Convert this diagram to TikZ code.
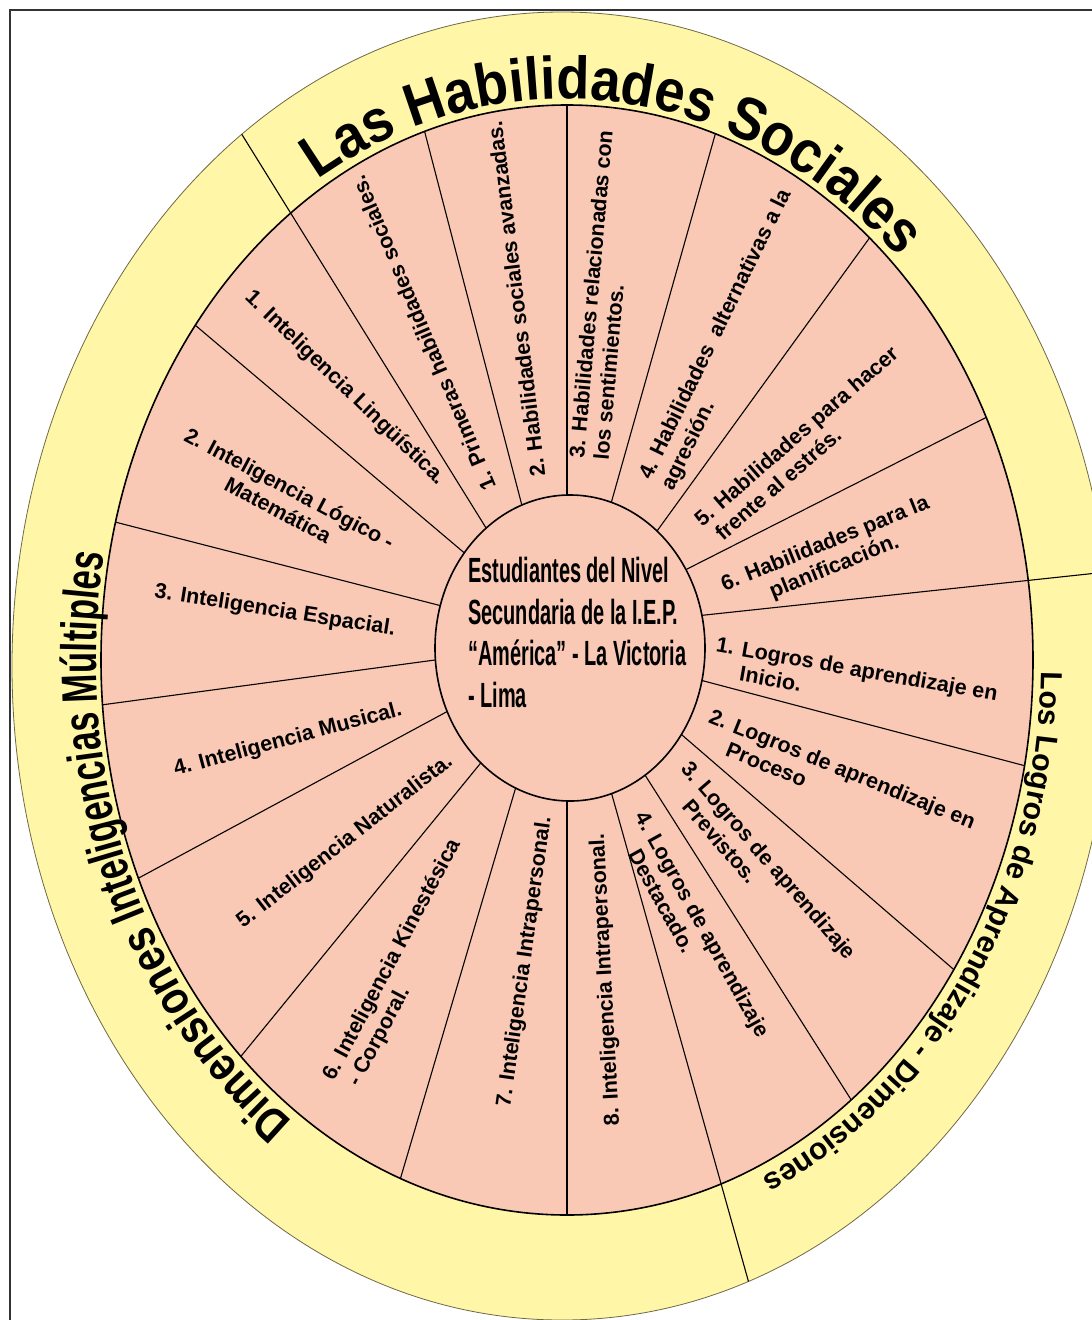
\documentclass[tikz,border=0pt]{standalone}
\usepackage{fontspec}
\setmainfont{Liberation Sans}
\newfontfamily\centerfont[FakeStretch=0.57]{Liberation Sans}
\newfontfamily\condfont[FakeStretch=0.69]{Liberation Sans}
\newfontfamily\semifont[FakeStretch=0.82]{Liberation Sans}
\newfontfamily\habfont[FakeStretch=0.9]{Liberation Sans}
\usetikzlibrary{decorations.text,calc}
\definecolor{bandyellow}{RGB}{255,246,168}
\definecolor{wedgepink}{RGB}{249,201,181}
\definecolor{rimline}{RGB}{110,105,70}
\newcommand\ttlHab{\habfont\bfseries\fontsize{60}{64}\selectfont}
\newcommand\ttlDimA{\semifont\bfseries\fontsize{48}{52}\selectfont}
\newcommand\ttlDimB{\condfont\bfseries\fontsize{50}{54}\selectfont}
\newcommand\ttlLog{\bfseries\fontsize{30.3}{34}\selectfont}
\begin{document}
\begin{tikzpicture}[x=1pt,y=1pt,
  lbl/.style={font=\bfseries\fontsize{21.5}{24.5}\selectfont, inner sep=0pt},
  divider/.style={line width=1.1pt, draw=black},
  rim/.style={line width=1.6pt, draw=black}]
\useasboundingbox (0,0) rectangle (1092,-1320);
\fill[white] (0,0) rectangle (1092,-1320);
\begin{scope}
\clip (0,0) rectangle (1092,-1320);
\draw[line width=1.2pt, black!80] (10,-1325) -- (10,-10) -- (1100,-10);
\filldraw[fill=bandyellow, draw=rimline, line width=0.8pt] (562,-666) ellipse [x radius=550, y radius=654];
\fill[wedgepink] (567,-660) ellipse [x radius=466, y radius=555];
% divider end points
\coordinate (iA) at (478,-515); \coordinate (oA) at (290,-212);
\coordinate (iB) at (520,-498); \coordinate (oB) at (425,-133);
\coordinate (iC) at (567,-495); \coordinate (oC) at (567,-105);
\coordinate (iD) at (612,-500); \coordinate (oD) at (715,-135);
\coordinate (iE) at (665,-520); \coordinate (oE) at (868,-240);
\coordinate (iF) at (695,-565); \coordinate (oF) at (985,-418);
\coordinate (iG) at (705,-615); \coordinate (oG) at (1032,-580);
\coordinate (iH) at (700,-680); \coordinate (oH) at (1022,-765);
\coordinate (iI) at (682,-735); \coordinate (oI) at (952,-968);
\coordinate (iJ) at (645,-775); \coordinate (oJ) at (850,-1098);
\coordinate (iK) at (612,-795); \coordinate (oK) at (720,-1180);
\coordinate (iL) at (567,-800); \coordinate (oL) at (567,-1215);
\coordinate (iM) at (515,-790); \coordinate (oM) at (400,-1180);
\coordinate (iN) at (475,-770); \coordinate (oN) at (242,-1055);
\coordinate (iO) at (450,-710); \coordinate (oO) at (135,-880);
\coordinate (iP) at (435,-660); \coordinate (oP) at (101,-705);
\coordinate (iQ) at (438,-605); \coordinate (oQ) at (115,-522);
\coordinate (iR) at (455,-545); \coordinate (oR) at (195,-325);
\begin{scope}
\clip (567,-660) ellipse [x radius=466, y radius=555];
\foreach \n in {B,C,D,E,F,H,I,J,L,M,N,O,P,Q,R}
  \draw[divider] ($(i\n)!-0.25!(o\n)$) -- ($(i\n)!1.2!(o\n)$);
\end{scope}
\begin{scope}
\clip (562,-666) ellipse [x radius=550, y radius=654];
\foreach \n in {A,G,K}
  \draw[divider] ($(i\n)!-0.25!(o\n)$) -- ($(i\n)!1.7!(o\n)$);
\end{scope}
\draw[rim] (567,-660) ellipse [x radius=466, y radius=555];
\filldraw[fill=wedgepink, rim] (570,-648) ellipse [x radius=135, y radius=153];
% titles
\path[decorate, decoration={text along path, text format delimiters={|}{|},
  text={|\ttlHab|Las Habilidades Sociales}, text align=left}]
  ($(565,-662)+(121:480 and 563)$) arc[start angle=121, end angle=10, x radius=480, y radius=563];
\path[decorate, decoration={text along path, text format delimiters={|}{|},
  text={|\ttlDimA|Dimensiones |\ttlDimB|Inteligencias Múltiples}, text align=left}]
  ($(565,-662)+(234.5:469 and 564)$) arc[start angle=234.5, end angle=120, x radius=469, y radius=564];
\path[decorate, decoration={text along path, text format delimiters={|}{|},
  text={|\ttlLog|Los Logros de Aprendizaje - Dimensiones}, text align=left}]
  ($(565,-662)+(-1:476 and 566)$) arc[start angle=-1, end angle=-110, x radius=476, y radius=566];
% segment labels
\node[lbl, rotate=113] (h1) at (423,-333) {1. Primeras habilidades sociales.};
\node[lbl, rotate=97] (h2) at (516,-299) {2. Habilidades sociales avanzadas.};
\node[lbl, rotate=85, align=left] (h3) at (603,-295) {3. Habilidades relacionadas con\\los sentimientos.};
\node[lbl, rotate=64, align=left] (h4) at (727,-340) {4. Habilidades\ \ alternativas a la\\agresión.};
\node[lbl, rotate=41, align=left] (h5) at (804,-445) {5. Habilidades para hacer\\\hspace*{6pt}frente al estrés.};
\node[lbl, rotate=22, align=center] (h6) at (830,-556) {6. Habilidades para la\\planificación.};
\node[lbl, rotate=-10, align=left] (l1) at (855,-681) {1. Logros de aprendizaje en\\\hspace*{28pt}Inicio.};
\node[lbl, rotate=-22, align=left] (l2) at (838,-780) {2. Logros de aprendizaje en\\\hspace*{28pt}Proceso};
\node[lbl, rotate=-49, align=left] (l3) at (760,-868) {3. Logros de aprendizaje\\\hspace*{30pt}Previstos.};
\node[lbl, rotate=-61, align=left] (l4) at (692,-930) {4. Logros de aprendizaje\\\hspace*{30pt}Destacado.};
\node[lbl, rotate=-44] (i1) at (345,-388) {1. Inteligencia Lingüística.};
\node[lbl, rotate=-28, align=center] (i2) at (284,-499) {2. Inteligencia Lógico -\\Matemática};
\node[lbl, rotate=-9] (i3) at (275,-611) {3. Inteligencia Espacial.};
\node[lbl, rotate=15] (i4) at (288,-740) {4. Inteligencia Musical.};
\node[lbl, rotate=38] (i5) at (345,-842) {5. Inteligencia Naturalista.};
\node[lbl, rotate=62, align=left] (i6) at (403,-966) {6. Inteligencia Kinestésica\\\hspace*{7pt}- Corporal.};
\node[lbl, rotate=82] (i7) at (525,-962) {7. Inteligencia Intrapersonal.};
\node[lbl, rotate=93] (i8) at (606,-980) {8. Inteligencia Intrapersonal.};
% centre
\node[anchor=north west, align=left, inner sep=0pt,
  font=\centerfont\bfseries\fontsize{35}{41.7}\selectfont] (ctr) at (468,-557)
  {Estudiantes del Nivel\\Secundaria de la I.E.P.\\“América” - La Victoria\\- Lima};
\end{scope}
\end{tikzpicture}
\end{document}
